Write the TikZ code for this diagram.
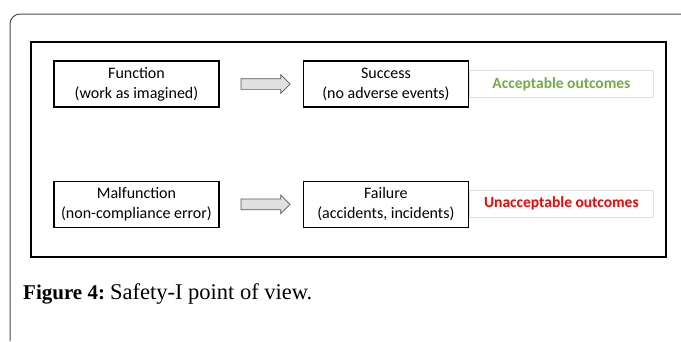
\documentclass[tikz,border=0pt]{standalone}
\usepackage{fontspec}
\setmainfont{Liberation Serif}
\newfontfamily\boxfont{Carlito}
\usetikzlibrary{positioning,shapes.arrows}
\definecolor{okgreen}{HTML}{70AD47}
\definecolor{badred}{HTML}{FF0000}

\begin{document}
\begin{tikzpicture}[x=1pt, y=-1pt, node distance=83pt,
    main box/.style={draw, line width=1.4pt, minimum width=165pt, minimum height=46pt, align=center, inner sep=0pt},
    outcome box/.style={draw=black!12, line width=0.6pt, minimum width=184pt, minimum height=27pt, inner sep=0pt, anchor=west, font=\boxfont\bfseries\fontsize{15.5}{18}\selectfont},
    fat arrow/.style={single arrow, draw=black!65, fill=black!12, line width=0.7pt, minimum height=49pt, single arrow head extend=4pt, inner xsep=0pt, inner ysep=5pt}]
        \tikzstyle{every node}=[font=\boxfont\fontsize{16}{20}\selectfont]
        \useasboundingbox (0,0) rectangle (681,341);

        % frame of the page
        \draw[black!70, line width=1pt] (10,341) -- (10,24) arc (180:270:10) -- (681,14);
        \draw[line width=1.6pt] (31,42) rectangle (666,257);

          \node[main box] (func) at (136.5,84) {Function\\(work as imagined)};
          \node[main box] (succ) [right=of func] {Success\\(no adverse events)};
          \node[main box] (malf) [below=73pt of func] {Malfunction\\(non-compliance error)};
          \node[main box] (fail) [right=of malf] {Failure\\(accidents, incidents)};

          \node[outcome box, text=okgreen] (good) at (succ.east) {Acceptable outcomes};
          \node[outcome box, text=badred] (bad) at ([yshift=1pt]fail.east) {Unacceptable outcomes};

          \path (func) -- node[fat arrow, pos=0.52] (a1) {} (succ);
          \path (malf) -- node[fat arrow, pos=0.52] (a2) {} (fail);

        % caption
        \node[anchor=base west, inner sep=0pt, font=\fontsize{22.5}{26}\selectfont] (cap) at (23,299) {{\fontsize{21}{26}\selectfont\bfseries Figure 4:}\hspace{5pt}Safety-I point of view.};
\end{tikzpicture}
\end{document}
